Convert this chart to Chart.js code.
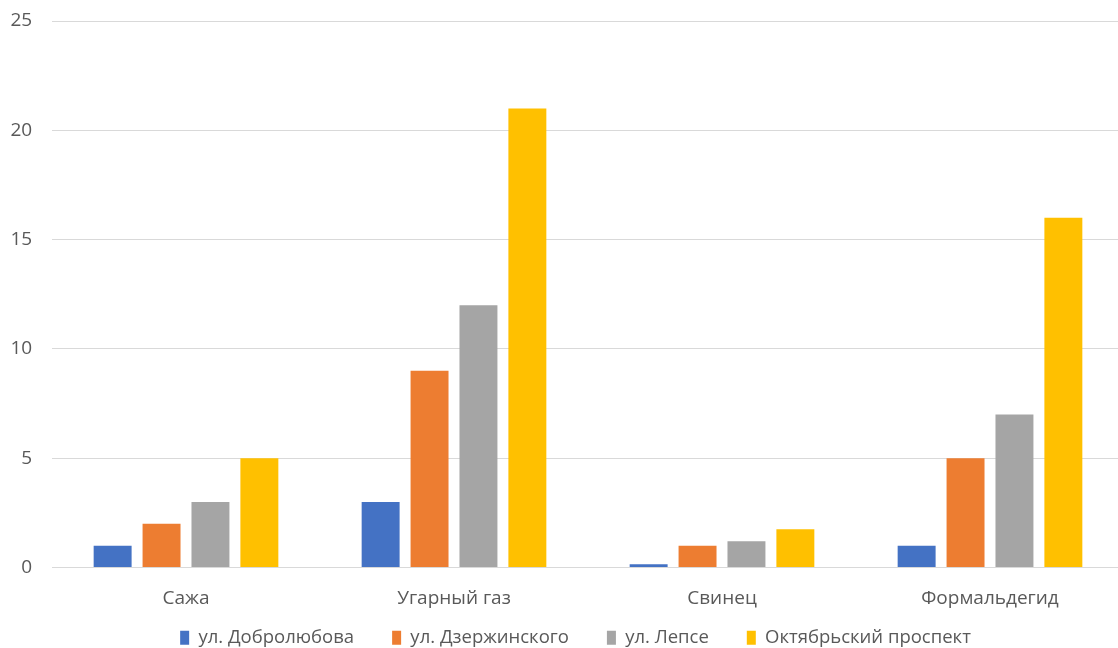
<!DOCTYPE html>
<html>
<head>
<meta charset="utf-8">
<script src="https://cdn.jsdelivr.net/npm/chart.js@4/dist/chart.umd.min.js"></script>
<style>
  html, body { margin: 0; padding: 0; background: #fff; overflow: hidden; }
  #wrap { width: 1126px; height: 648px; position: relative; }
</style>
</head>
<body>
<div id="wrap"><canvas id="c"></canvas></div>
<script>
// Pollutant categories and per-street measurements
const categories = ['Сажа', 'Угарный газ', 'Свинец', 'Формальдегид'];
const dobrolyubova = [1, 3, 0.15, 1];
const dzerzhinskogo = [2, 9, 1, 5];
const lepse = [3, 12, 1.2, 7];
const oktyabrsky = [5, 21, 1.75, 16];
const seriesNames = ['ул. Добролюбова', 'ул. Дзержинского', 'ул. Лепсе', 'Октябрьский проспект'];
const yTicks = [0, 5, 10, 15, 20, 25];

const colors = ['#4472C4', '#ED7D31', '#A5A5A5', '#FFC000'];
const values = [dobrolyubova, dzerzhinskogo, lepse, oktyabrsky];

const FONT = '"Open Sans", "Noto Sans", sans-serif';
const TEXT = '#595959';

new Chart(document.getElementById('c'), {
  type: 'bar',
  data: {
    labels: categories,
    datasets: seriesNames.map((name, i) => ({
      label: name,
      data: values[i],
      backgroundColor: colors[i],
      borderWidth: 0,
      barPercentage: 0.776,
      categoryPercentage: 0.73
    }))
  },
  options: {
    responsive: true,
    maintainAspectRatio: false,
    animation: false,
    layout: { padding: { top: 21, right: 2, bottom: -9, left: 27 } },
    plugins: {
      tooltip: { enabled: false },
      legend: {
        position: 'bottom',
        labels: {
          font: { family: FONT, size: 18.5 },
          color: TEXT,
          boxWidth: 9,
          boxHeight: 14,
          padding: 38
        }
      }
    },
    scales: {
      x: {
        afterFit: (axis) => { axis.height = 23; },
        grid: { display: false, drawTicks: false },
        border: { display: false },
        ticks: {
          font: { family: FONT, size: 19 },
          color: TEXT,
          mirror: true,
          padding: -42
        }
      },
      y: {
        min: 0,
        max: 25,
        afterBuildTicks: (axis) => { axis.ticks = yTicks.map(v => ({ value: v })); },
        afterFit: (axis) => { axis.width = 25; },
        grid: { color: '#D9D9D9', lineWidth: 1, drawTicks: false },
        border: { display: false },
        ticks: {
          font: { family: FONT, size: 19 },
          color: TEXT,
          mirror: true,
          crossAlign: 'far',
          padding: -41.5
        }
      }
    }
  }
});
</script>
</body>
</html>
